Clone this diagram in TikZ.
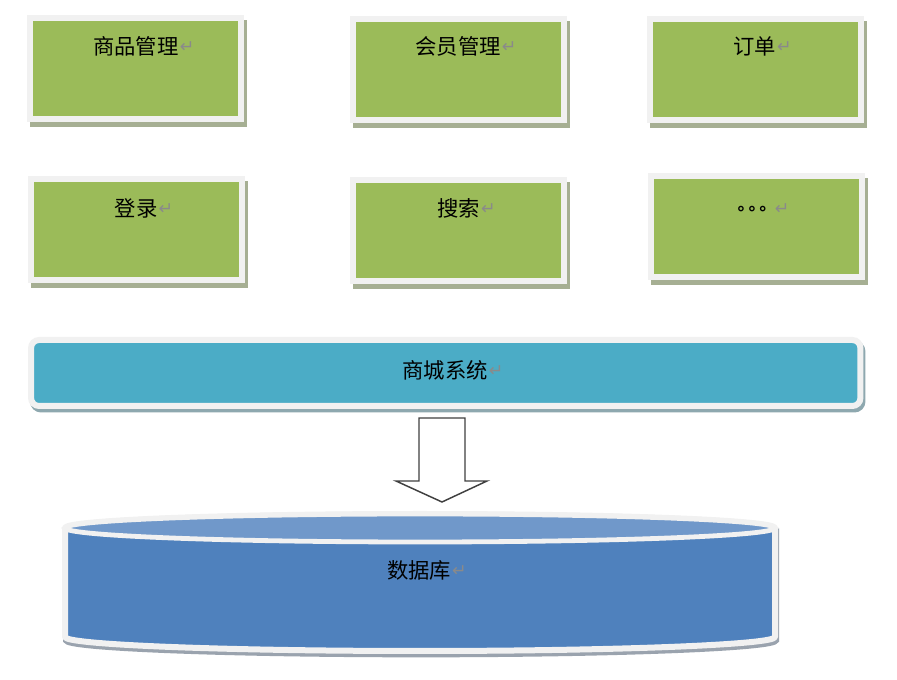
\documentclass[tikz,border=0pt]{standalone}
\usepackage{fontspec}
\newfontfamily\cjk{Noto Sans CJK SC}
\newfontfamily\symf{DejaVu Sans}
\usetikzlibrary{calc}
\definecolor{boxgreen}{HTML}{9BBB59}
\definecolor{gshadow}{HTML}{A6AF93}
\definecolor{framec}{HTML}{F1F1F1}
\definecolor{barcyan}{HTML}{4BACC6}
\definecolor{cshadow}{HTML}{8EA8AF}
\definecolor{dbblue}{HTML}{4F81BD}
\definecolor{dbtop}{HTML}{7098CA}
\definecolor{dbshadow}{HTML}{9AA3AE}
\definecolor{retgray}{HTML}{8A8A8A}
\definecolor{arrowline}{HTML}{404040}
\begin{document}
\begin{tikzpicture}[x=0.75pt,y=-0.75pt,
  gbox/.style={draw=framec, fill=boxgreen, line width=4.5pt, inner sep=0pt,
    minimum width=158.25pt, minimum height=75.75pt,
    preaction={draw=gshadow, fill=gshadow, transform canvas={shift={(2.25pt,-3.75pt)}}}},
  barbox/.style={draw=framec, fill=barcyan, line width=4.5pt, inner sep=0pt,
    rounded corners=6pt, minimum width=622pt, minimum height=49.5pt,
    preaction={draw=cshadow, fill=cshadow, transform canvas={shift={(1.5pt,-2.6pt)}}}},
  lbl/.style={font=\cjk\fontsize{16}{18}\selectfont, text=black, inner sep=1pt},
  retmark/.style={font=\symf\fontsize{13}{14}\selectfont, text=retgray, inner sep=0.5pt}
]
\useasboundingbox[fill=white] (0,0) rectangle (897,680);

% top row boxes
\node[gbox] (b1) at (135.5,68.5) {};
\node[gbox] (b2) at (458.5,69.5) {};
\node[gbox] (b3) at (755,69.5) {};
% second row
\node[gbox] (b4) at (136,230) {};
\node[gbox] (b5) at (458.5,230.5) {};
\node[gbox] (b6) at (756,227) {};

\node[lbl, label={[retmark, xshift=-1pt, yshift=-1pt]right:↵}] (t1) at (136,46) {商品管理};
\node[lbl, label={[retmark, xshift=-1pt, yshift=-1pt]right:↵}] (t2) at (458,46) {会员管理};
\node[lbl, label={[retmark, xshift=-1pt, yshift=-1pt]right:↵}] (t3) at (754.5,46) {订单};
\node[lbl, label={[retmark, xshift=-1pt, yshift=-1pt]right:↵}] (t4) at (136,208) {登录};
\node[lbl, label={[retmark, xshift=-1pt, yshift=-1pt]right:↵}] (t5) at (458.5,208) {搜索};
\node[font=\symf\bfseries\fontsize{13}{14}\selectfont, inner sep=1pt,
  label={[retmark, xshift=3pt, yshift=1pt]right:↵}] (t6) at (752,210) {∘∘∘};

% bar
\node[barbox] (bar) at (445.75,373) {};
\node[lbl, label={[retmark, xshift=-1pt, yshift=-1pt]right:↵}] (tbar) at (445,370) {商城系统};

% block arrow
\draw[arrowline, line width=1.1pt, fill=white, line join=miter]
  (419,418) -- (465,418) -- (465,481) -- (487,481) -- (442,502) -- (396,481) -- (419,481) -- cycle;

% database cylinder
\begin{scope}[transform canvas={shift={(0pt,-2.5pt)}}]
\draw[dbshadow, fill=dbshadow, line width=4.5pt]
  (66,528) -- (66,637) arc[start angle=180, end angle=360, x radius=266.25pt, y radius=10.5pt]
  -- (776,528) -- cycle;
\end{scope}
\draw[framec, fill=dbblue, line width=4.5pt, line join=round]
  (65,528) -- (65,637) arc[start angle=180, end angle=360, x radius=266.25pt, y radius=10.5pt]
  -- (775,528) arc[start angle=0, end angle=180, x radius=266.25pt, y radius=10.5pt] -- cycle;
\draw[framec, fill=dbtop, line width=3.6pt]
  (420,528) ellipse[x radius=266.25pt, y radius=10.5pt];
\node[lbl, label={[retmark, xshift=-1pt, yshift=-1pt]right:↵}] (tdb) at (419,570) {数据库};
\end{tikzpicture}
\end{document}
